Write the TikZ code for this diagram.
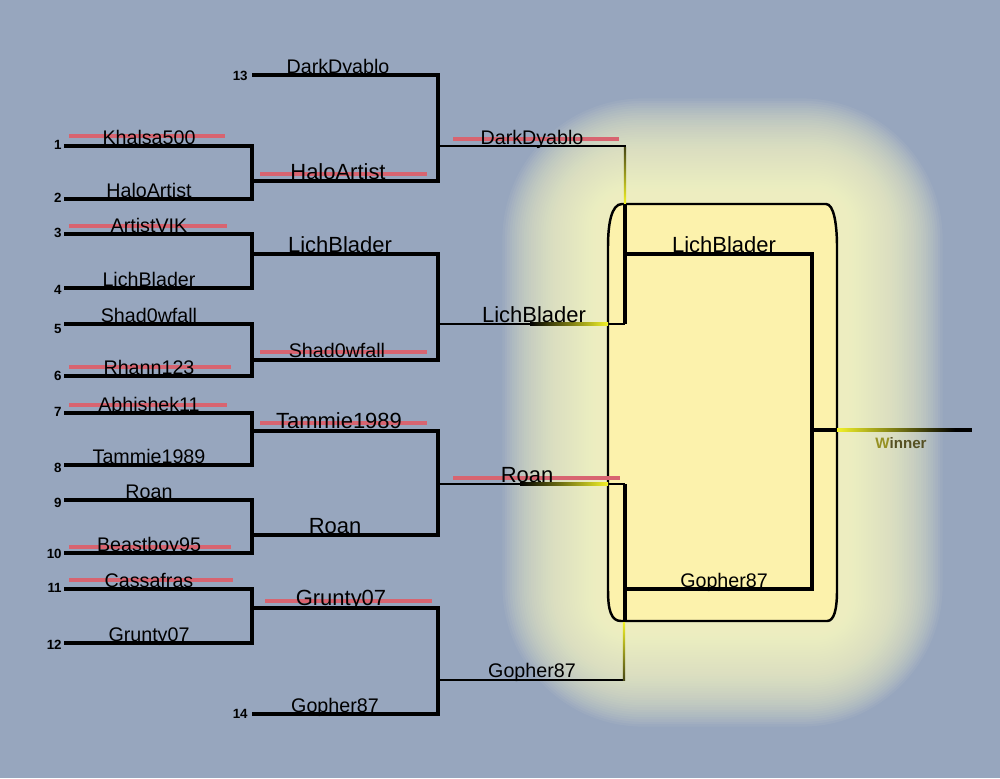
\documentclass[tikz,border=0pt]{standalone}
\usepackage{fontspec}
\setmainfont{Liberation Sans}
\usetikzlibrary{positioning}
\definecolor{bgblue}{RGB}{151,166,190}
\definecolor{strike}{RGB}{216,100,112}
\definecolor{boxfill}{RGB}{252,242,172}
\definecolor{glow}{RGB}{255,255,210}
\definecolor{lineyellow}{RGB}{242,242,40}
\definecolor{darkolive}{RGB}{70,70,20}
\definecolor{winw}{RGB}{150,145,35}
\definecolor{winrest}{RGB}{85,80,35}

\begin{document}
\begin{tikzpicture}[x=0.02cm, y=-0.02cm]
\tikzset{
bracket/.style={line width=1.8pt, line join=miter}, % the bracket lines
final/.style={line width=1.3pt}, % lines that run on to the final
cross/.style={strike, line width=2.8pt}, % red line through a loser
player/.style={anchor=base, inner sep=0pt, font=\fontsize{11.2}{13}\selectfont}, % name on its line
bigplayer/.style={player, font=\fontsize{12.5}{15}\selectfont}, % bigger name
seed/.style={anchor=east, inner sep=0pt, font=\fontsize{7.6}{9}\selectfont\bfseries}, % seed number
}
\fill[bgblue] (0,0) rectangle (1000,778);
\useasboundingbox (0,0) rectangle (1000,778);

% soft glow round the final
\foreach \g in {1,...,44}{
  \pgfmathsetmacro{\gd}{2.4*\g}
  \pgfmathsetmacro{\gr}{0.4+0.055*\g}
  \fill[glow, opacity=0.055, rounded corners=\gr cm] (608-\gd,204-\gd) rectangle (837+\gd,621+\gd);
}

% the final box
\filldraw[fill=boxfill, draw=black, line width=1.4pt] (622,204) -- (826,204)
  .. controls (834,204) and (837,225) .. (837,247) -- (837,590)
  .. controls (837,610) and (834,621) .. (827,621) -- (621,621)
  .. controls (611,621) and (608,610) .. (608,590) -- (608,247)
  .. controls (608,225) and (611,204) .. (622,204) -- cycle;

% first round
\foreach \a/\b/\o in {146/199/181, 234/288/254, 324/376/360, 413/465/431, 500/553/535, 589/643/608}
  \draw[bracket] (64,\a) -- (252,\a) -- (252,\b) -- (64,\b) (252,\o) -- (438,\o);

% second round
\foreach \a/\b in {75/181, 254/360, 431/535, 608/714}
  \draw[bracket] (252,\a) -- (438,\a) -- (438,\b) -- (252,\b);

% on to the final
\draw[final] (438,146) -- (625,146) -- (625,204);
\draw[final] (438,324) -- (625,324);
\draw[final] (438,484) -- (625,484);
\draw[final] (438,680) -- (624,680) -- (624,621);
\shade[left color=black, right color=lineyellow] (530,322.8) rectangle (608,325.2);
\shade[left color=black, right color=lineyellow] (520,482.8) rectangle (608,485.2);
\shade[top color=darkolive, bottom color=lineyellow] (623.8,147) rectangle (626.2,203);
\shade[top color=lineyellow, bottom color=darkolive] (622.8,622) rectangle (625.2,680);

% the final
\draw[line width=2.2pt] (625,204) -- (625,324) (625,484) -- (625,621);
\draw[bracket] (625,254) -- (812,254) -- (812,589) -- (625,589);
\draw[bracket] (812,430) -- (972,430);
\shade[left color=lineyellow, right color=black] (837,428.4) rectangle (955,431.6);

% losers
\draw[cross] (69,136) -- (225,136);
\draw[cross] (69,226) -- (227,226);
\draw[cross] (69,367) -- (231,367);
\draw[cross] (69,405) -- (227,405);
\draw[cross] (69,547) -- (231,547);
\draw[cross] (69,580) -- (233,580);
\draw[cross] (260,174) -- (427,174);
\draw[cross] (260,352) -- (427,352);
\draw[cross] (260,423) -- (427,423);
\draw[cross] (265,601) -- (432,601);
\draw[cross] (453,139) -- (619,139);
\draw[cross] (453,478) -- (620,478);

% names
\foreach \y/\t [count=\i] in {146/Khalsa500, 199/HaloArtist, 234/ArtistVIK, 288/LichBlader, 324/Shad0wfall, 376/Rhann123, 413/Abhishek11, 465/Tammie1989, 500/Roan, 553/Beastboy95, 589/Cassafras, 643/Grunty07}
  \node[player] (p\i) at (149,\y-2) {\t};
\node[player] (p13) at (338,73) {DarkDyablo};
\node[player] (p14) at (335,712) {Gopher87};
\node[bigplayer] (q1) at (338,179) {HaloArtist};
\node[bigplayer] (q2) at (340,252) {LichBlader};
\node[player] (q3) at (337,357) {Shad0wfall};
\node[bigplayer] (q4) at (339,428) {Tammie1989};
\node[bigplayer] (q5) at (335,533) {Roan};
\node[bigplayer] (q6) at (341,605) {Grunty07};
\node[player] (r1) at (532,144) {DarkDyablo};
\node[bigplayer] (r2) at (534,322) {LichBlader};
\node[bigplayer] (r3) at (527,482) {Roan};
\node[player] (r4) at (532,677) {Gopher87};
\node[bigplayer] (f1) at (724,252) {LichBlader};
\node[player] (f2) at (724,587) {Gopher87};
\node[anchor=base, inner sep=0pt, font=\fontsize{8.6}{10}\selectfont\bfseries] (win) at (901,448) {\textcolor{winw}{W}\textcolor{winrest}{inner}};

% seeds
\foreach \y [count=\i] in {145,198,233,290,329,376,412,468,503,554,588,645}
  \node[seed] (s\i) at (62,\y) {\i};
\node[seed] (s13) at (248,76) {13};
\node[seed] (s14) at (248,714) {14};
\end{tikzpicture}
\end{document}
